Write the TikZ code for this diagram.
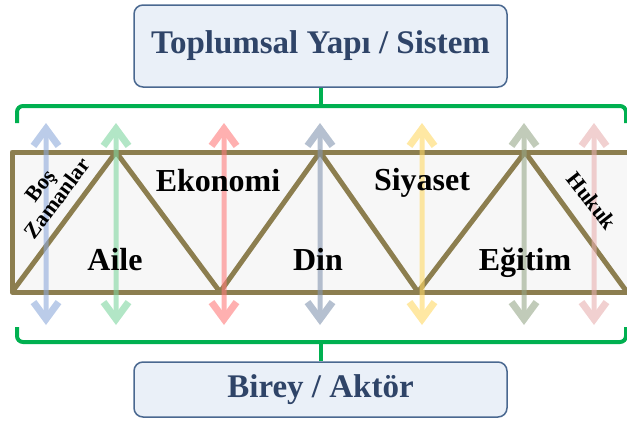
\documentclass[tikz,border=0pt]{standalone}
\usepackage{fontspec}
\setmainfont{Liberation Serif}
\usetikzlibrary{arrows.meta}
\usetikzlibrary{positioning}

\definecolor{trussolive}{HTML}{8C7E4F}
\definecolor{trussfill}{HTML}{F7F7F7}
\definecolor{boxedge}{HTML}{4A6890}
\definecolor{boxfill}{HTML}{EAF0F8}
\definecolor{boxtext}{HTML}{2F4468}
\definecolor{bracegreen}{HTML}{00B050}
\definecolor{linkblue}{HTML}{8EAADB}
\definecolor{linkgreen}{HTML}{7FD6A0}
\definecolor{linkred}{HTML}{FF7C7C}
\definecolor{linkslate}{HTML}{8496B0}
\definecolor{linkyellow}{HTML}{FFD966}
\definecolor{linksage}{HTML}{97A88A}
\definecolor{linkpink}{HTML}{E8B0B0}

\tikzset{
  headbox/.style={draw=boxedge, fill=boxfill, rounded corners=9pt, line width=1.5pt,
    minimum width=373pt, text=boxtext, font=\fontsize{33}{33}\selectfont\bfseries},
  field/.style={anchor=base, font=\fontsize{32}{32}\selectfont\bfseries},
  smallfield/.style={align=center, inner sep=1pt, font=\fontsize{22}{21}\selectfont\bfseries},
  truss/.style={draw=trussolive, line width=5pt, line join=round},
  brace/.style={draw=bracegreen, line width=4pt, rounded corners=6pt},
  barb/.tip={Straight Barb[length=17pt,width=25pt,line width=0pt 1.4]},
  link/.style={line width=5pt, barb-barb},
}

\begin{document}
\begin{tikzpicture}[x=1pt,y=1pt]
  \useasboundingbox (0,0) rectangle (627,-421);

  % the two levels
  \node[headbox, minimum height=82pt] (system) at (320.5,-46) {Toplumsal Yapı / Sistem};
  \node[headbox, minimum height=55pt] (actor) at (320.5,-389.5) {Birey / Aktör};

  % brackets
  \draw[brace] (17,-123) |- (626,-106) -- (626,-123);
  \draw[brace] (system.south) -- ++(0,-19);
  \draw[brace] (17,-327) |- (626,-342) -- (626,-327);
  \draw[brace] (actor.north) -- ++(0,20);

  % truss
  \begin{scope}
    \clip (0,0) rectangle (627,-421);
    \draw[truss, fill=trussfill] (12,-152) rectangle (660,-292);
    \draw[truss] (12,-292) -- (116,-152) -- (220,-292) -- (320,-152)
      -- (418,-292) -- (525,-152) -- (627,-292);
  \end{scope}

  % links between the levels
  \foreach \x/\c [count=\i] in {46/linkblue, 116/linkgreen, 224/linkred, 320/linkslate,
      422/linkyellow, 524/linksage, 594/linkpink} {
    \coordinate (up\i) at (\x,-123);
    \coordinate (dn\i) at (\x,-325);
    \begin{scope}[transparency group, opacity=0.6]
      \draw[link, draw=\c] (up\i) -- (dn\i);
    \end{scope}
  }

  % institutions
  \node[field] (economy) at (218,-191) {Ekonomi};
  \node[field] (politics) at (422,-190) {Siyaset};
  \node[field] (family) at (115,-270) {Aile};
  \node[field] (religion) at (318,-270) {Din};
  \node[field] (education) at (525,-270) {Eğitim};
  \node[smallfield, rotate=53] (leisure) at (49,-192) {Boş\\Zamanlar};
  \node[smallfield, rotate=-52] (law) at (592,-201) {Hukuk};
\end{tikzpicture}
\end{document}
